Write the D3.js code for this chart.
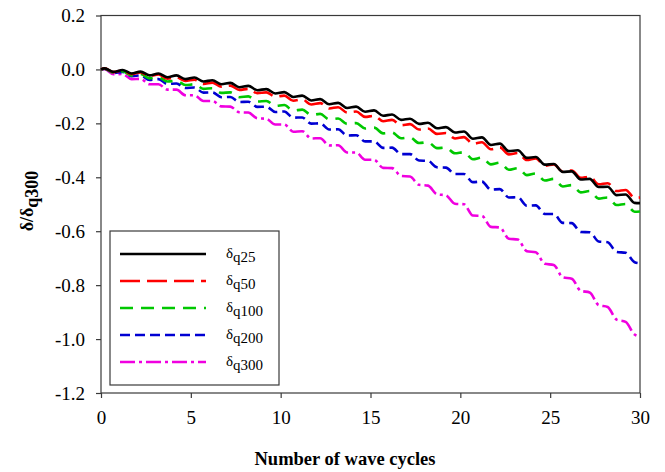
<!DOCTYPE html>
<html>
<head>
<meta charset="utf-8">
<script src="https://cdn.jsdelivr.net/npm/d3@7"></script>
<style>
  body { margin: 0; background: #fff; }
  svg text { font-family: "Liberation Serif", "Times New Roman", "DejaVu Serif", serif !important; }
</style>
</head>
<body>
<div id="chart-area"></div>
<script>
// x positions: start, then a crest (n+0.2) and a trough (n+0.7) of every wave cycle, then the end
const cycles = [0, 0.2, 0.7, 1.2, 1.7, 2.2, 2.7, 3.2, 3.7, 4.2, 4.7, 5.2, 5.7, 6.2, 6.7, 7.2, 7.7, 8.2, 8.7, 9.2, 9.7,
    10.2, 10.7, 11.2, 11.7, 12.2, 12.7, 13.2, 13.7, 14.2, 14.7, 15.2, 15.7, 16.2, 16.7, 17.2, 17.7, 18.2, 18.7, 19.2, 19.7,
    20.2, 20.7, 21.2, 21.7, 22.2, 22.7, 23.2, 23.7, 24.2, 24.7, 25.2, 25.7, 26.2, 26.7, 27.2, 27.7, 28.2, 28.7, 29.2, 29.7, 30]

const q25 = [0, 0.004, -0.009, -0.002, -0.015, -0.008, -0.022, -0.015, -0.029, -0.022, -0.036, -0.030, -0.045, -0.040, -0.055,
    -0.050, -0.066, -0.061, -0.077, -0.073, -0.089, -0.084, -0.102, -0.097, -0.115, -0.110, -0.129, -0.124, -0.143, -0.138, -0.157,
    -0.152, -0.172, -0.167, -0.187, -0.183, -0.202, -0.198, -0.218, -0.214, -0.234, -0.230, -0.257, -0.252, -0.280, -0.275, -0.303,
    -0.300, -0.328, -0.325, -0.353, -0.351, -0.380, -0.378, -0.408, -0.406, -0.436, -0.435, -0.466, -0.464, -0.495, -0.496]

const q50 = [0, 0.004, -0.010, -0.004, -0.017, -0.011, -0.025, -0.019, -0.034, -0.029, -0.043, -0.038, -0.054, -0.049, -0.064,
    -0.060, -0.076, -0.072, -0.088, -0.085, -0.101, -0.097, -0.116, -0.111, -0.130, -0.125, -0.145, -0.140, -0.160, -0.156, -0.176,
    -0.172, -0.192, -0.187, -0.207, -0.203, -0.223, -0.219, -0.239, -0.236, -0.256, -0.251, -0.276, -0.270, -0.296, -0.289, -0.315,
    -0.310, -0.336, -0.330, -0.357, -0.352, -0.379, -0.375, -0.402, -0.398, -0.426, -0.422, -0.451, -0.447, -0.476, -0.475]

const q100 = [0, 0.003, -0.012, -0.007, -0.022, -0.017, -0.033, -0.029, -0.045, -0.042, -0.058, -0.055, -0.072, -0.070, -0.087,
    -0.085, -0.103, -0.100, -0.119, -0.117, -0.135, -0.132, -0.153, -0.149, -0.169, -0.165, -0.185, -0.182, -0.202, -0.199, -0.219,
    -0.216, -0.237, -0.234, -0.255, -0.252, -0.273, -0.270, -0.292, -0.290, -0.311, -0.307, -0.333, -0.327, -0.352, -0.346, -0.372,
    -0.366, -0.392, -0.386, -0.412, -0.406, -0.434, -0.429, -0.456, -0.451, -0.479, -0.475, -0.503, -0.499, -0.528, -0.527]

const q200 = [0, 0.003, -0.013, -0.009, -0.025, -0.022, -0.039, -0.036, -0.054, -0.052, -0.069, -0.067, -0.086, -0.085, -0.103,
    -0.102, -0.121, -0.120, -0.139, -0.138, -0.158, -0.156, -0.179, -0.178, -0.201, -0.200, -0.223, -0.222, -0.245, -0.244, -0.267,
    -0.267, -0.291, -0.290, -0.314, -0.314, -0.338, -0.339, -0.363, -0.364, -0.388, -0.388, -0.418, -0.416, -0.446, -0.444, -0.475,
    -0.474, -0.505, -0.504, -0.536, -0.536, -0.569, -0.570, -0.603, -0.604, -0.638, -0.641, -0.677, -0.680, -0.715, -0.719]

const q300 = [0, 0.001, -0.018, -0.017, -0.036, -0.035, -0.055, -0.055, -0.075, -0.075, -0.096, -0.096, -0.117, -0.117, -0.137,
    -0.138, -0.159, -0.160, -0.181, -0.183, -0.204, -0.204, -0.231, -0.229, -0.256, -0.255, -0.282, -0.281, -0.308, -0.308, -0.335,
    -0.335, -0.365, -0.366, -0.395, -0.397, -0.428, -0.431, -0.463, -0.467, -0.498, -0.500, -0.542, -0.543, -0.584, -0.586, -0.628,
    -0.631, -0.674, -0.678, -0.721, -0.725, -0.771, -0.776, -0.821, -0.827, -0.874, -0.881, -0.928, -0.936, -0.983, -0.990]

const seriesNames = ["25", "50", "100", "200", "300"]
const seriesValues = [q25, q50, q100, q200, q300]
const seriesColors = ["#000000", "#ff0000", "#00c800", "#0000d2", "#f000e0"]
const seriesDash = ["none", "20,7", "13,8", "10,5", "15,4,3,4"]

const xTicks = [0, 5, 10, 15, 20, 25, 30]
const yTicks = [0.2, 0.0, -0.2, -0.4, -0.6, -0.8, -1.0, -1.2]

const FONT = "'Liberation Serif', 'Times New Roman', 'DejaVu Serif', serif"

const totalWidth = 665
const totalHeight = 472
const MARGIN = {LEFT: 101, RIGHT: 25, TOP: 15.5, BOTTOM: 79}
const WIDTH = totalWidth - MARGIN.LEFT - MARGIN.RIGHT
const HEIGHT = totalHeight - MARGIN.TOP - MARGIN.BOTTOM

const svg = d3.select("#chart-area")
    .append("svg")
    .attr("width", totalWidth)
    .attr("height", totalHeight)
    .style("font-family", FONT)

svg.append("rect")
    .attr("width", totalWidth)
    .attr("height", totalHeight)
    .attr("fill", "#fff")

const g = svg.append("g")
    .attr("transform", `translate(${MARGIN.LEFT}, ${MARGIN.TOP})`)

const xScale = d3.scaleLinear()
    .domain([0, 30])
    .range([0, WIDTH])

const yScale = d3.scaleLinear()
    .domain([-1.2, 0.2])
    .range([HEIGHT, 0])

// frame
g.append("rect")
    .attr("width", WIDTH)
    .attr("height", HEIGHT)
    .attr("fill", "none")
    .attr("stroke", "#3a3a3a")
    .attr("stroke-width", 1.2)

const xAxis = g.append("g")
    .attr("class", "x axis")
    .attr("transform", `translate(0, ${HEIGHT})`)
    .call(d3.axisBottom(xScale).tickValues(xTicks).tickSize(5).tickPadding(13).tickFormat(d3.format("d")))

const yAxis = g.append("g")
    .attr("class", "y axis")
    .call(d3.axisLeft(yScale).tickValues(yTicks).tickSize(5).tickPadding(11).tickFormat(d => d.toFixed(1)))

g.selectAll(".axis").attr("font-family", null)
g.selectAll(".axis .domain").remove()
g.selectAll(".axis line").attr("stroke", "#3a3a3a").attr("stroke-width", 1.2)
g.selectAll(".axis text")
    .style("font-family", FONT)
    .attr("font-size", "19px")
    .attr("fill", "#000")

// axis labels
svg.append("text")
    .attr("x", 345)
    .attr("y", 465)
    .attr("text-anchor", "middle")
    .style("font-family", FONT)
    .attr("font-size", "18.5px")
    .attr("font-weight", "bold")
    .text("Number of wave cycles")

const yLabel = svg.append("text")
    .attr("transform", "translate(33, 201) rotate(-90)")
    .attr("text-anchor", "middle")
    .style("font-family", FONT)
    .attr("font-size", "18px")
    .attr("font-weight", "bold")
yLabel.append("tspan").text("δ/δ")
yLabel.append("tspan").attr("dy", "0.3em").text("q300")

// curves
const line = d3.line()
    .x((d, i) => xScale(cycles[i]))
    .y(d => yScale(d))
    .curve(d3.curveMonotoneX)

const order = [4, 3, 2, 1, 0]
order.forEach(i => {
    g.append("path")
        .attr("d", line(seriesValues[i]))
        .attr("fill", "none")
        .attr("stroke", seriesColors[i])
        .attr("stroke-width", 2.6)
        .attr("stroke-dasharray", seriesDash[i])
})

// legend
const legend = svg.append("g")
    .attr("transform", "translate(110, 231)")

legend.append("rect")
    .attr("width", 169)
    .attr("height", 154)
    .attr("fill", "#fff")
    .attr("stroke", "#3a3a3a")
    .attr("stroke-width", 1.2)

seriesNames.forEach((name, i) => {
    const row = legend.append("g")
        .attr("transform", `translate(0, ${23 + i * 27})`)

    row.append("line")
        .attr("x1", 10)
        .attr("x2", 96)
        .attr("stroke", seriesColors[i])
        .attr("stroke-width", 2.4)
        .attr("stroke-dasharray", seriesDash[i])

    const label = row.append("text")
        .attr("x", 116)
        .attr("y", 4)
        .style("font-family", FONT)
        .attr("font-size", "15px")
    label.append("tspan").text("δ")
    label.append("tspan").attr("dy", 4).text("q" + name)
})
</script>
</body>
</html>
